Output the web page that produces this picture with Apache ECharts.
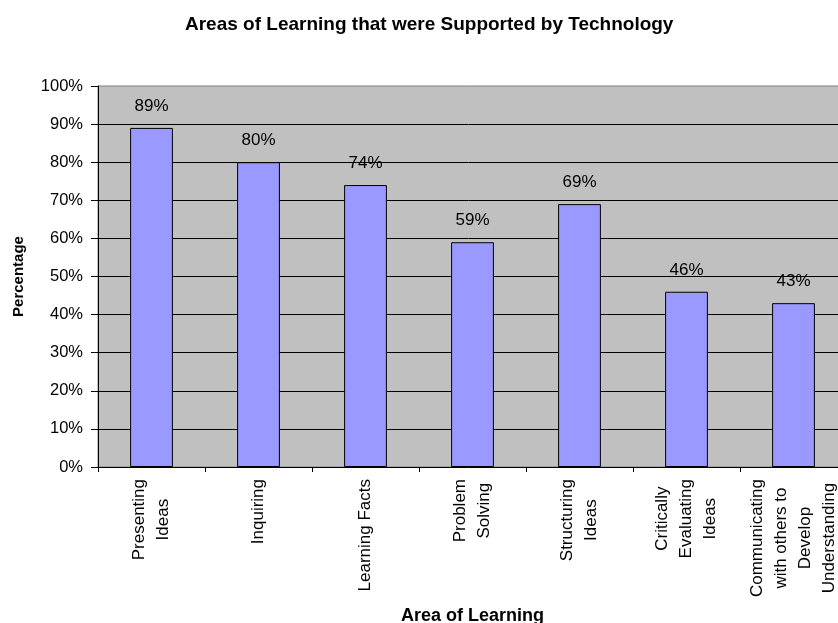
<!DOCTYPE html>
<html>
<head>
<meta charset="utf-8">
<script src="https://cdn.jsdelivr.net/npm/echarts@6/dist/echarts.min.js"></script>
<style>html,body{margin:0;padding:0;background:#fff;}#c{width:838px;height:623px;}</style>
</head>
<body>
<div id="c"></div>
<script>
const categories = ['Presenting\nIdeas', 'Inquiring', 'Learning Facts', 'Problem\nSolving', 'Structuring\nIdeas', 'Critically\nEvaluating\nIdeas', 'Communicating\nwith others to\nDevelop\nUnderstanding'];
const values = [89, 80, 74, 59, 69, 46, 43];
const titleText = 'Areas of Learning that were Supported by Technology';
const xName = 'Area of Learning';
const yName = 'Percentage';

const FONT = '"Liberation Sans", Arial, sans-serif';
const chart = echarts.init(document.getElementById('c'), null, {renderer: 'canvas'});
chart.setOption({
  animation: false,
  backgroundColor: '#ffffff',
  title: {
    text: titleText,
    left: 180, top: 10,
    textStyle: {fontFamily: FONT, fontSize: 19, fontWeight: 'bold', color: '#000'}
  },
  grid: {
    left: 98, top: 86, width: 749, height: 381,
    containLabel: false,
    outerBoundsMode: 'none',
    show: true, backgroundColor: '#C0C0C0', borderColor: '#808080', borderWidth: 1
  },
  xAxis: {
    type: 'category',
    data: categories,
    name: xName,
    nameLocation: 'middle',
    nameGap: 140,
    nameMoveOverlap: false,
    nameTextStyle: {fontFamily: FONT, fontSize: 18, fontWeight: 'bold', color: '#000'},
    axisLine: {show: true, lineStyle: {color: '#000', width: 1}},
    axisTick: {show: true, length: 5, lineStyle: {color: '#000'}},
    axisLabel: {
      rotate: 90, interval: 0, margin: 12,
      fontFamily: FONT, fontSize: 17, color: '#000',
      lineHeight: 24,
      formatter: function (v) {
        return v.split('\n').map(function (s) { return '{c|' + s + '}'; }).join('\n');
      },
      rich: {c: {align: 'center', fontFamily: FONT, fontSize: 17, lineHeight: 24, color: '#000'}}
    },
    splitLine: {show: false}
  },
  yAxis: {
    type: 'value',
    min: 0, max: 100, interval: 10,
    name: yName,
    nameLocation: 'middle',
    nameGap: 72,
    nameMoveOverlap: false,
    nameRotate: 90,
    nameTextStyle: {fontFamily: FONT, fontSize: 15, fontWeight: 'bold', color: '#000'},
    axisLine: {show: true, lineStyle: {color: '#000', width: 1}},
    axisTick: {show: true, length: 7, lineStyle: {color: '#000'}},
    axisLabel: {formatter: '{value}%', margin: 15, fontFamily: FONT, fontSize: 16.5, color: '#000'},
    splitLine: {show: true, showMinLine: false, showMaxLine: false, lineStyle: {color: '#000', width: 1}}
  },
  series: [{
    type: 'bar',
    data: values,
    barWidth: '40%',
    itemStyle: {color: '#9999FF', borderColor: '#000', borderWidth: 1},
    label: {
      show: true, position: 'top', distance: 13,
      formatter: '{c}%',
      fontFamily: FONT, fontSize: 17, color: '#000'
    }
  }]
});
</script>
</body>
</html>
